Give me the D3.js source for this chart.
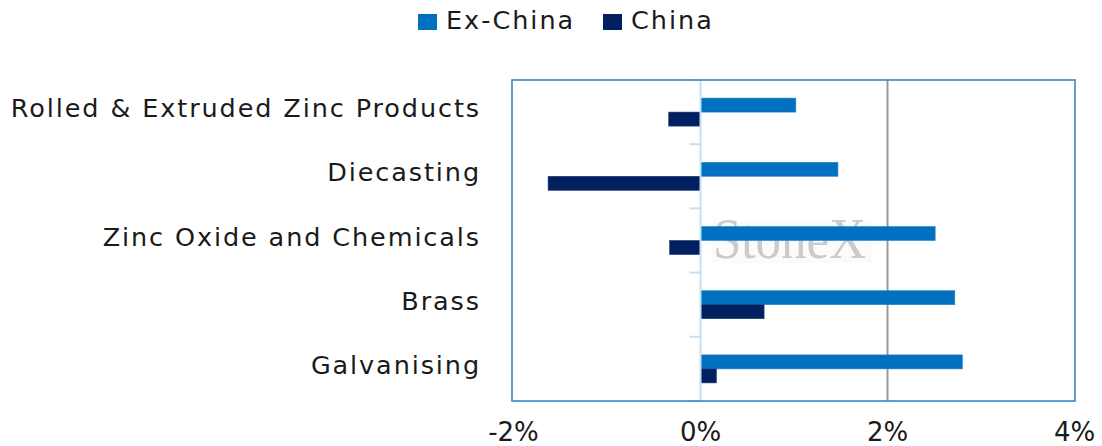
<!DOCTYPE html>
<html><head><meta charset="utf-8">
<script src="https://cdn.jsdelivr.net/npm/d3@7"></script>
<style>body{margin:0;background:#fff}svg{display:block}text{font-family:"DejaVu Sans",sans-serif}</style>
</head><body><svg id="c" width="1102" height="446"></svg>
<script>
const categories = ["Rolled & Extruded Zinc Products","Diecasting","Zinc Oxide and Chemicals","Brass","Galvanising"];
const seriesNames = ["Ex-China","China"];
const exChina = [1.02, 1.47, 2.51, 2.72, 2.80];
const china = [-0.34, -1.63, -0.33, 0.68, 0.17];
const xTicks = [-2, 0, 2, 4];
const colors = ["#0070c0", "#002060"];

const svg = d3.select("#c");
const L = 512, R = 1075, T = 80, B = 401;
const x = d3.scaleLinear().domain([-2, 4]).range([L + 1.5, R - 0.5]);
const y = d3.scaleBand().domain(categories).range([T, B]);
const groupH = 28;
const ySub = d3.scaleBand().domain(seriesNames).range([0, groupH]);

// watermark
const wm = svg.append("g");
wm.append("rect").attr("x", 711).attr("y", 221).attr("width", 162).attr("height", 42).attr("fill", "#fbfbfb");
wm.append("text").attr("x", 713).attr("y", 258)
  .style("font-family", "'Liberation Serif',serif").attr("font-size", 56).attr("fill", "#cbcbcb")
  .attr("textLength", 153).attr("lengthAdjust", "spacingAndGlyphs").text("StoneX");

// gridline at 2%
svg.append("line").attr("x1", x(2)).attr("x2", x(2)).attr("y1", T).attr("y2", B)
  .attr("stroke", "#999").attr("stroke-width", 2);

// bars
const data = categories.map((c, i) => ({c, vals: [exChina[i], china[i]]}));
const g = svg.append("g").selectAll("g").data(data).join("g")
  .attr("transform", d => `translate(0,${y(d.c) + (y.bandwidth() - groupH) / 2})`);
g.selectAll("rect").data(d => d.vals.map((v, k) => ({v, s: seriesNames[k], k}))).join("rect")
  .attr("x", d => x(Math.min(0, d.v))).attr("width", d => Math.abs(x(d.v) - x(0)))
  .attr("y", d => ySub(d.s)).attr("height", ySub.bandwidth())
  .attr("fill", d => colors[d.k]).attr("stroke", d => d.k ? "#1f3a70" : "#2a84cc").attr("stroke-width", 0.6);

// zero axis
svg.append("line").attr("x1", x(0)).attr("x2", x(0)).attr("y1", T).attr("y2", B)
  .attr("stroke", "#c5dff5").attr("stroke-width", 2);
const bounds = categories.map(c => y(c)).concat([B]);
svg.append("g").selectAll("line").data(bounds).join("line")
  .attr("x1", x(0) - 11).attr("x2", x(0)).attr("y1", d => d).attr("y2", d => d)
  .attr("stroke", "#c5dff5").attr("stroke-width", 2);

// border
svg.append("rect").attr("x", L).attr("y", T).attr("width", R - L).attr("height", B - T)
  .attr("fill", "none").attr("stroke", "#3a86c8").attr("stroke-width", 1.6);

// category labels
svg.append("g").selectAll("text").data(categories).join("text")
  .attr("x", 481).attr("y", d => y(d) + y.bandwidth() / 2 + 5)
  .attr("text-anchor", "end").attr("font-size", 25.5).attr("letter-spacing", 1.9)
  .attr("fill", "#1a1a1a").text(d => d);

// x tick labels
svg.append("g").selectAll("text").data(xTicks).join("text")
  .attr("x", d => x(d)).attr("y", 441).attr("text-anchor", "middle")
  .attr("font-size", 26).attr("fill", "#1a1a1a").text(d => d + "%");

// legend
const legX = [418, 603];
const lg = svg.append("g").selectAll("g").data(seriesNames).join("g")
  .attr("transform", (d, i) => `translate(${legX[i]},0)`);
lg.append("rect").attr("x", 0).attr("y", 14).attr("width", 19).attr("height", 16).attr("fill", (d, i) => colors[i]);
lg.append("text").attr("x", 28).attr("y", 29).attr("font-size", 25.5).attr("letter-spacing", 2)
  .attr("fill", "#1a1a1a").text(d => d);
</script></body></html>
